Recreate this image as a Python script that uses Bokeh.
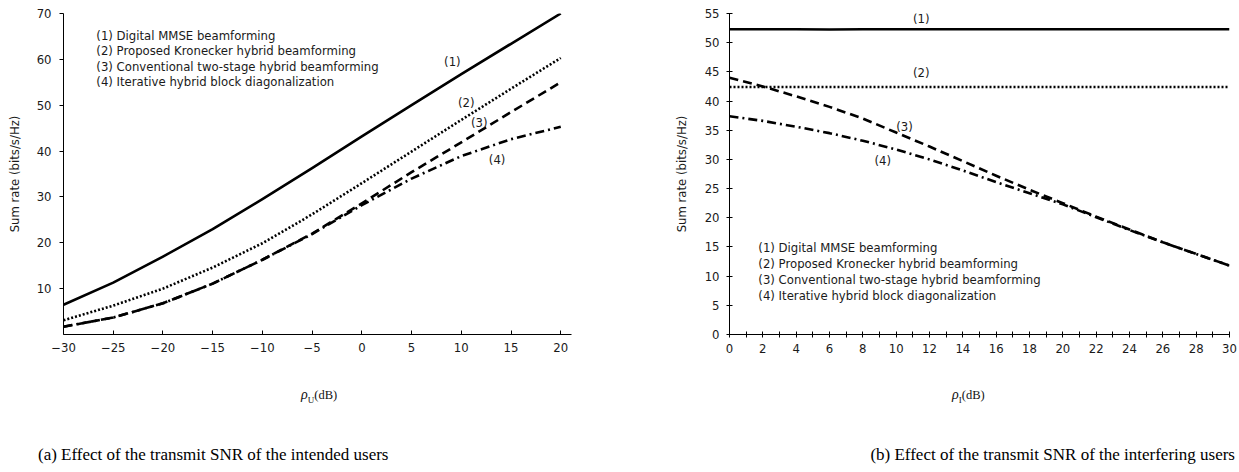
from bokeh.plotting import figure
from bokeh.models import Range1d, Label, FixedTicker, Div
from bokeh.layouts import row, column
from bokeh.embed import file_html
from bokeh.resources import INLINE

# ---------------- data: panel (a) ----------------
snr_u = [-30, -25, -20, -15, -10, -5, 0, 5, 10, 15, 20]
rate_a_digital = [6.5, 11.3, 17.0, 23.0, 29.5, 36.3, 43.2, 50.0, 56.8, 63.4, 70.0]
rate_a_kron = [3.1, 6.3, 10.0, 14.6, 19.9, 26.2, 33.0, 39.9, 46.8, 53.6, 60.3]
rate_a_twostage = [1.7, 3.7, 6.8, 11.1, 16.3, 22.0, 28.6, 35.4, 41.9, 48.5, 55.0]
rate_a_ibd = [1.7, 3.7, 6.8, 11.1, 16.3, 21.9, 28.2, 34.0, 38.9, 42.6, 45.3]
x_ticks_a = [-30, -25, -20, -15, -10, -5, 0, 5, 10, 15, 20]
x_tick_labels_a = ["\u221230", "\u221225", "\u221220", "\u221215", "\u221210", "\u22125",
                   "0", "5", "10", "15", "20"]
y_ticks_a = [10, 20, 30, 40, 50, 60, 70]

# ---------------- data: panel (b) ----------------
snr_i = [0, 2, 4, 6, 8, 10, 12, 14, 16, 18, 20, 22, 24, 26, 28, 30]
rate_b_digital = [52.3, 52.3, 52.3, 52.25, 52.3, 52.3, 52.3, 52.3, 52.3, 52.3, 52.3, 52.3, 52.3, 52.3, 52.3, 52.3]
rate_b_kron = [42.4, 42.4, 42.4, 42.4, 42.4, 42.4, 42.4, 42.4, 42.4, 42.4, 42.4, 42.4, 42.4, 42.4, 42.4, 42.4]
rate_b_twostage = [44.0, 42.5, 40.8, 39.0, 37.0, 34.6, 32.2, 29.7, 27.2, 24.8, 22.5, 20.2, 18.0, 15.8, 13.8, 11.8]
rate_b_ibd = [37.4, 36.6, 35.6, 34.5, 33.2, 31.7, 30.0, 28.1, 26.1, 24.2, 22.3, 20.1, 17.9, 15.8, 13.8, 11.8]
x_ticks_b = [0, 2, 4, 6, 8, 10, 12, 14, 16, 18, 20, 22, 24, 26, 28, 30]
x_minor_b = [1, 3, 5, 7, 9, 11, 13, 15, 17, 19, 21, 23, 25, 27, 29]
y_ticks_b = [0, 5, 10, 15, 20, 25, 30, 35, 40, 45, 50, 55]

legend_labels = ["(1) Digital MMSE beamforming",
                 "(2) Proposed Kronecker hybrid beamforming",
                 "(3) Conventional two-stage hybrid beamforming",
                 "(4) Iterative hybrid block diagonalization"]
curve_tags = ["(1)", "(2)", "(3)", "(4)"]
y_label = "Sum rate (bits/s/Hz)"
x_label_subs = ["U", "I"]
captions = ["(a) Effect of the transmit SNR of the intended users",
            "(b) Effect of the transmit SNR of the interfering users"]

SANS = "DejaVu Sans"
SERIF = "Liberation Serif"
FS = "11.7px"
LW = 2.6
styles = [dict(line_dash="solid"), dict(line_dash="2 2"),
          dict(line_dash="9 5"), dict(line_dash="9 4 2 4")]


def base_fig(width, xr, yr, mb_left, mb_right):
    p = figure(width=width, height=365, x_range=xr, y_range=yr,
               output_backend="svg", toolbar_location=None,
               min_border_left=mb_left, min_border_right=mb_right,
               min_border_top=13, min_border_bottom=31)
    p.outline_line_color = None
    p.grid.visible = False
    p.background_fill_color = "white"
    p.border_fill_color = "white"
    for ax in (p.xaxis[0], p.yaxis[0]):
        ax.axis_line_color = "black"
        ax.axis_line_width = 1
        ax.major_tick_line_color = "black"
        ax.major_label_text_font = SANS
        ax.major_label_text_font_size = FS
        ax.major_label_text_color = "#1a1a1a"
        ax.axis_label_text_font = SANS
        ax.axis_label_text_font_size = FS
        ax.axis_label_text_font_style = "normal"
        ax.axis_label_text_color = "#1a1a1a"
    return p


def lab(p, x, y, text, align="left"):
    p.add_layout(Label(x=x, y=y, text=text, text_font=SANS, text_font_size=FS,
                       text_align=align, text_baseline="middle",
                       text_color="#1a1a1a"))


def caption_div(width, sub, rho_left, caption, cap_css):
    html = (
        f'<div style="position:relative;width:{width}px;height:107px;overflow:visible;">'
        f'<span style="position:absolute;left:{rho_left}px;top:23px;white-space:nowrap;'
        f'font-family:\'Liberation Serif\';font-size:12.5px;line-height:1;color:#111;">'
        f'<i style="font-size:14px;">\u03c1</i>'
        f'<sub style="font-size:9px;">{sub}</sub>(dB)</span>'
        f'<span style="position:absolute;{cap_css};top:81px;white-space:nowrap;'
        f'font-family:\'Liberation Serif\';font-size:17px;line-height:1;color:#000;">'
        f'{caption}</span></div>'
    )
    return Div(text=html, width=width, height=107, margin=0)


# ---------------- panel (a) ----------------
pa = base_fig(650, Range1d(-30, 21.08), Range1d(0, 70), 63, 79)
pa.xaxis.ticker = FixedTicker(ticks=x_ticks_a)
pa.xaxis.major_label_overrides = {float(t): s for t, s in zip(x_ticks_a, x_tick_labels_a)}
pa.xaxis.major_tick_in = 4
pa.xaxis.major_tick_out = 0
pa.xaxis.minor_tick_line_color = None
pa.xaxis.major_label_standoff = 8
pa.yaxis.ticker = FixedTicker(ticks=y_ticks_a)
pa.yaxis.major_tick_in = 0
pa.yaxis.major_tick_out = 4
pa.yaxis.minor_tick_line_color = None
pa.yaxis.major_label_standoff = 8
pa.yaxis.axis_label = y_label
pa.yaxis.axis_label_standoff = 12

for ys, st in zip([rate_a_digital, rate_a_kron, rate_a_twostage, rate_a_ibd], styles):
    pa.line(snr_u, ys, line_color="black", line_width=LW, line_join="round", **st)

for i, t in enumerate(legend_labels):
    lab(pa, -26.7, [65.2, 61.8, 58.4, 55.0][i], t)
for t, (x, y) in zip(curve_tags, [(9.1, 59.5), (10.5, 50.4), (11.8, 46.1), (13.6, 38.0)]):
    lab(pa, x, y, t, align="center")

# ---------------- panel (b) ----------------
pb = base_fig(589, Range1d(0, 30), Range1d(0, 55), 79, 10)
pb.xaxis.ticker = FixedTicker(ticks=x_ticks_b, minor_ticks=x_minor_b)
pb.xaxis.major_tick_in = 3
pb.xaxis.major_tick_out = 3
pb.xaxis.minor_tick_in = 3
pb.xaxis.minor_tick_out = 3
pb.xaxis.minor_tick_line_color = "black"
pb.xaxis.major_label_standoff = 6
pb.yaxis.ticker = FixedTicker(ticks=y_ticks_b)
pb.yaxis.major_tick_in = 3
pb.yaxis.major_tick_out = 3
pb.yaxis.minor_tick_line_color = None
pb.yaxis.major_label_standoff = 7
pb.yaxis.axis_label = y_label
pb.yaxis.axis_label_standoff = 13

for ys, st in zip([rate_b_digital, rate_b_kron, rate_b_twostage, rate_b_ibd], styles):
    pb.line(snr_i, ys, line_color="black", line_width=LW, line_join="round", **st)

for i, t in enumerate(legend_labels):
    lab(pb, 1.73, [14.74, 12.1, 9.3, 6.56][i], t)
for t, (x, y) in zip(curve_tags, [(11.5, 54.1), (11.5, 44.8), (10.5, 35.6), (9.2, 29.8)]):
    lab(pb, x, y, t, align="center")

da = caption_div(650, x_label_subs[0], 301, captions[0], "left:38px")
db = caption_div(589, x_label_subs[1], 302, captions[1], "right:4px")

layout = column(row(pa, pb), row(da, db))
open("out.html", "w").write(file_html(layout, INLINE))
